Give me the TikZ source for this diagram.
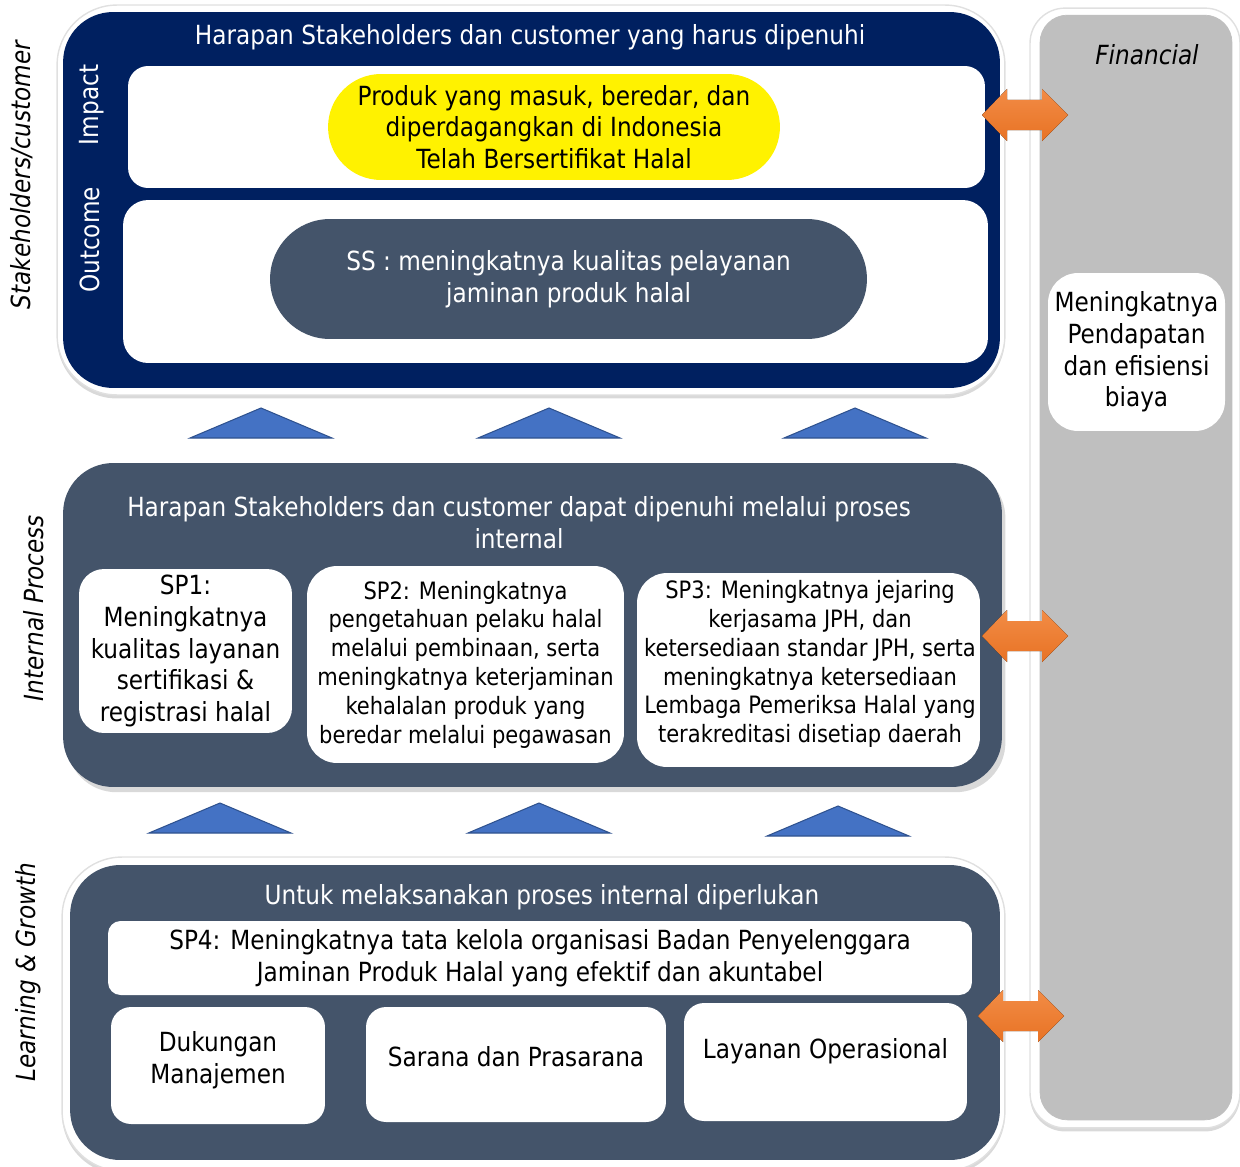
\documentclass[tikz,border=0pt]{standalone}
\usepackage{fontspec}
\setmainfont{DejaVu Sans}[FakeStretch=0.88]
\usepackage{tikz}
\usetikzlibrary{shadows}
\usetikzlibrary{positioning}
\usetikzlibrary{shapes}

\definecolor{navy}{RGB}{0,32,96}
\definecolor{slate}{RGB}{68,84,106}
\definecolor{triblue}{RGB}{68,114,196}
\definecolor{tridark}{RGB}{47,82,143}
\definecolor{orgtop}{RGB}{242,140,70}
\definecolor{orgbot}{RGB}{232,114,36}
\definecolor{fingray}{RGB}{191,191,191}

\newcommand\fsMain{\fontsize{15}{18.1}\selectfont}
\newcommand\fsSmall{\fontsize{13.6}{16.4}\selectfont}

\begin{document}
\begin{tikzpicture}[x=0.02cm, y=-0.02cm,
  frame/.style={fill=white, draw=black!12, line width=0.8pt, inner sep=0pt,
    drop shadow={shadow xshift=0pt, shadow yshift=-2pt, opacity=0.3}},
  panel/.style={rounded corners=1cm, inner sep=0pt},
  wbox/.style={fill=white, inner sep=0pt, align=center, text=black, font=\fsMain},
  pill/.style={inner sep=0pt, align=center, font=\fsMain},
  ttl/.style={text=white, align=center, font=\fsMain},
  side/.style={rotate=90, font=\fsMain\itshape},
  tri/.style={fill=triblue, draw=tridark, line width=0.6pt},
  dblarr/.style={top color=orgtop, bottom color=orgbot}
]
\useasboundingbox (0,0) rectangle (1240,1166);

% financial column
\node[frame, rounded corners=0.7cm, minimum width=4.2cm, minimum height=22.4cm] (finframe) at (1135,568) {};
\node[panel, fill=fingray, draw=black!25, rounded corners=0.55cm, minimum width=3.84cm, minimum height=22.1cm] (finpanel) at (1136,567.5) {};
\node[font=\fsMain\itshape] (fintitle) at (1147,55) {Financial};
\node[wbox, rounded corners=0.6cm, minimum width=3.54cm, minimum height=3.16cm] (fin) at (1136.5,352) {Meningkatnya\\Pendapatan\\dan efisiensi\\biaya};

% stakeholders / customer
\node[frame, rounded corners=1.2cm, minimum width=18.96cm, minimum height=7.8cm] (topframe) at (531,200) {};
\node[panel, fill=navy, minimum width=18.74cm, minimum height=7.52cm] (toppanel) at (531.5,200) {};
\node[ttl] (toptitle) at (530,37) {Harapan Stakeholders dan customer yang harus dipenuhi};
\node[wbox, rounded corners=0.4cm, minimum width=17.14cm, minimum height=2.44cm] (impactbox) at (556.5,127) {};
\node[pill, fill=yellow, rounded corners=1.06cm, minimum width=9.04cm, minimum height=2.12cm] (impact) at (554,127) {Produk yang masuk, beredar, dan\\diperdagangkan di Indonesia\\Telah Bersertifikat Halal};
\node[ttl, rotate=90] (impactlbl) at (92,105) {Impact};
\node[wbox, rounded corners=0.5cm, minimum width=17.3cm, minimum height=3.26cm] (outcomebox) at (555.5,281.5) {};
\node[pill, fill=slate, text=white, rounded corners=1.2cm, minimum width=11.94cm, minimum height=2.4cm] (ss) at (568.5,279) {SS : meningkatnya kualitas pelayanan\\jaminan produk halal};
\node[ttl, rotate=90] (outcomelbl) at (90,240) {Outcome};
\node[side] (stakelbl) at (22,175) {Stakeholders/customer};

% up triangles
\foreach \x/\y in {261/438, 549/438, 855/438, 220/833, 539/833, 838/836}
  \filldraw[tri] (\x-71,\y) -- (\x,\y-30) -- (\x+71,\y) -- cycle;

% internal process
\node[panel, fill=slate, minimum width=18.78cm, minimum height=6.48cm,
  drop shadow={shadow xshift=2pt, shadow yshift=-3pt, opacity=0.3}] (midpanel) at (532.5,625) {};
\node[ttl] (midtitle) at (519,523) {Harapan Stakeholders dan customer dapat dipenuhi melalui proses\\internal};
\node[wbox, rounded corners=0.5cm, minimum width=4.26cm, minimum height=3.28cm] (sp1) at (185.5,651) {SP1:\\Meningkatnya\\kualitas layanan\\sertifikasi \&\\registrasi halal};
\node[wbox, font=\fsSmall, rounded corners=0.6cm, minimum width=6.34cm, minimum height=3.94cm] (sp2) at (465.5,664.5) {SP2: Meningkatnya\\pengetahuan pelaku halal\\melalui pembinaan, serta\\meningkatnya keterjaminan\\kehalalan produk yang\\beredar melalui pegawasan};
\node[wbox, rounded corners=0.6cm, minimum width=6.86cm, minimum height=3.88cm] (sp3) at (808.5,670) {};
\node[font=\fsSmall, align=center] (sp3txt) at (810,664) {SP3: Meningkatnya jejaring\\kerjasama JPH, dan\\ketersediaan standar JPH, serta\\meningkatnya ketersediaan\\Lembaga Pemeriksa Halal yang\\terakreditasi disetiap daerah};
\node[side] (intlbl) at (34,608) {Internal Process};

% learning & growth
\node[frame, rounded corners=1.2cm, minimum width=18.86cm, minimum height=6.28cm] (botframe) at (533.5,1014) {};
\node[panel, fill=slate, minimum width=18.6cm, minimum height=5.9cm] (botpanel) at (535,1012.5) {};
\node[ttl] (bottitle) at (542,897) {Untuk melaksanakan proses internal diperlukan};
\node[wbox, rounded corners=0.25cm, minimum width=17.28cm, minimum height=1.48cm] (sp4) at (540,958) {SP4: Meningkatnya tata kelola organisasi Badan Penyelenggara\\Jaminan Produk Halal yang efektif dan akuntabel};
\node[wbox, rounded corners=0.4cm, minimum width=4.28cm, minimum height=2.34cm] (dukungan) at (218,1065.5) {};
\node[font=\fsMain, align=center] (dukungantxt) at (218,1060) {Dukungan\\Manajemen};
\node[wbox, rounded corners=0.4cm, minimum width=6cm, minimum height=2.3cm] (sarana) at (516,1064.5) {};
\node[font=\fsMain] (saranatxt) at (516,1057) {Sarana dan Prasarana};
\node[wbox, rounded corners=0.4cm, minimum width=5.66cm, minimum height=2.36cm] (layanan) at (825.5,1062) {};
\node[font=\fsMain] (layanantxt) at (825.5,1051) {Layanan Operasional};
\node[side] (lglbl) at (28,972) {Learning \& Growth};

% double arrows to financial
\foreach \xa/\yc in {982/115, 982/636, 978/1016}
  \fill[dblarr] (\xa,\yc) -- ++(25,-26) -- ++(0,11) -- ++(35,0) -- ++(0,-11) -- ++(26,26)
    -- ++(-26,26) -- ++(0,-11) -- ++(-35,0) -- ++(0,11) -- cycle;

\end{tikzpicture}
\end{document}
